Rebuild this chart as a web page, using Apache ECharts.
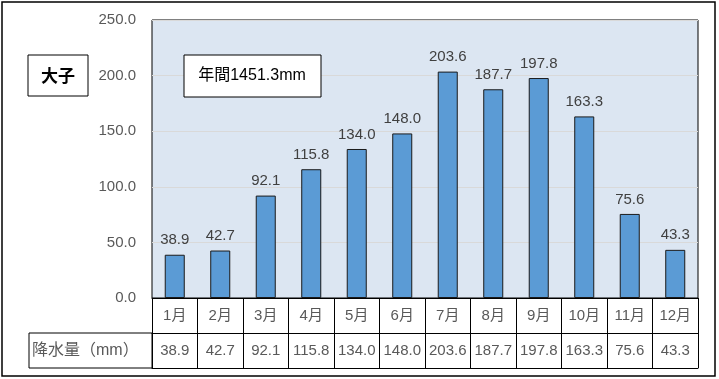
<!DOCTYPE html>
<html><head><meta charset="utf-8">
<script src="https://cdn.jsdelivr.net/npm/echarts@6/dist/echarts.min.js"></script>
<style>html,body{margin:0;padding:0;background:#fff}#c{width:719px;height:379px}</style>
</head><body><div id="c"></div>
<script>
const months = ['1月','2月','3月','4月','5月','6月','7月','8月','9月','10月','11月','12月'];
const rain = [38.9, 42.7, 92.1, 115.8, 134.0, 148.0, 203.6, 187.7, 197.8, 163.3, 75.6, 43.3];
const stationName = '大子';
const annualText = '年間1451.3mm';
const rowLabel = '降水量（mm）';
const yTicks = [0, 50, 100, 150, 200, 250];

const FONT = '"Liberation Sans","Noto Sans CJK JP",sans-serif';
const chart = echarts.init(document.getElementById('c'));
chart.setOption({
  animation: false,
  textStyle: {fontFamily: FONT},
  grid: {left: 152, top: 20, right: 21, bottom: 81, show: true, backgroundColor: '#dce6f2', borderColor: '#000', borderWidth: 1},
  xAxis: [
    {type: 'category', data: months, position: 'bottom',
     axisLine: {show: true, lineStyle: {color: '#000', width: 1}},
     axisTick: {show: true, length: 70, interval: 0, lineStyle: {color: '#000', width: 1}},
     axisLabel: {color: '#595959', fontSize: 15, margin: 10, interval: 0, hideOverlap: false, fontFamily: FONT}},
    {type: 'category', data: months, position: 'bottom', offset: 35,
     axisLine: {show: true, lineStyle: {color: '#000', width: 1}},
     axisTick: {show: false},
     axisLabel: {color: '#595959', fontSize: 15, margin: 10, interval: 0, hideOverlap: false, fontFamily: FONT,
       formatter: (v, i) => rain[i].toFixed(1)}},
    {type: 'category', data: months, position: 'bottom', offset: 70,
     axisLine: {show: true, lineStyle: {color: '#000', width: 1}},
     axisTick: {show: false}, axisLabel: {show: false}}
  ],
  yAxis: {type: 'value', min: yTicks[0], max: yTicks[yTicks.length - 1], interval: 50,
    axisLine: {show: false}, axisTick: {show: false},
    splitLine: {lineStyle: {color: '#d9d9d9', width: 1}},
    axisLabel: {color: '#595959', fontSize: 15, margin: 16, fontFamily: FONT,
      formatter: v => v.toFixed(1)}},
  series: [{
    type: 'bar', data: rain, barWidth: '44%',
    itemStyle: {color: '#5b9bd5', borderColor: '#1a1a1a', borderWidth: 1},
    label: {show: true, position: 'top', distance: 7, color: '#404040', fontSize: 15, fontFamily: FONT,
      formatter: p => p.value.toFixed(1)}
  }],
  graphic: [
    {type: 'rect', shape: {x: 2, y: 2, width: 713, height: 374}, style: {fill: 'none', stroke: '#000', lineWidth: 1.5}, z: 100},
    {type: 'rect', shape: {x: 29, y: 333, width: 123, height: 35}, style: {fill: 'none', stroke: '#000', lineWidth: 1}, z: 100},
    {type: 'text', x: 32, y: 351, style: {text: rowLabel, fill: '#595959', font: '16px ' + FONT, textVerticalAlign: 'middle'}, z: 100},
    {type: 'rect', shape: {x: 28, y: 55, width: 60, height: 41}, style: {fill: '#fff', stroke: '#000', lineWidth: 1}, z: 100},
    {type: 'text', x: 58, y: 76, style: {text: stationName, fill: '#000', font: 'bold 17px "Noto Sans CJK JP",sans-serif', textAlign: 'center', textVerticalAlign: 'middle'}, z: 101},
    {type: 'rect', shape: {x: 184, y: 55, width: 137, height: 42}, style: {fill: '#fff', stroke: '#000', lineWidth: 1}, z: 100},
    {type: 'text', x: 252, y: 76, style: {text: annualText, fill: '#000', font: '16px ' + FONT, textAlign: 'center', textVerticalAlign: 'middle'}, z: 101}
  ]
});
</script></body></html>
